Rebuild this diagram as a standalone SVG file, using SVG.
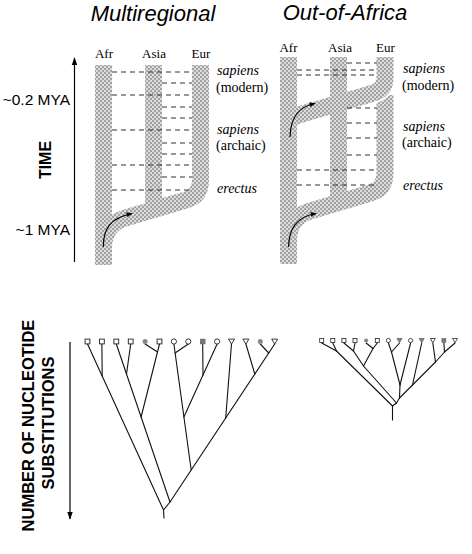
<svg xmlns="http://www.w3.org/2000/svg" xmlns:xlink="http://www.w3.org/1999/xlink" width="472" height="554" viewBox="0 0 472 554">
<defs>
<pattern id="chk" width="4" height="4" patternUnits="userSpaceOnUse">
<rect width="4" height="4" fill="#dcdcdc"/>
<rect width="2" height="2" fill="#a2a2a2"/>
<rect x="2" y="2" width="2" height="2" fill="#a2a2a2"/>
</pattern>
<marker id="ah" viewBox="0 0 10 10" refX="9" refY="5" markerWidth="8" markerHeight="8" orient="auto" markerUnits="userSpaceOnUse"><path d="M0,1.5 L10,5 L0,8.5 z" fill="#000"/></marker>
<marker id="ahs" viewBox="0 0 10 10" refX="9" refY="5" markerWidth="6" markerHeight="6" orient="auto" markerUnits="userSpaceOnUse"><path d="M0,1 L10,5 L0,9 z" fill="#000"/></marker>
<rect id="sq" x="-2.4" y="-2.4" width="4.8" height="4.8" fill="#fff" stroke="#222" stroke-width="0.9"/>
<rect id="gsq" x="-2.4" y="-2.4" width="4.8" height="4.8" fill="#777" stroke="#666" stroke-width="0.6"/>
<circle id="circ" r="2.6" fill="#fff" stroke="#222" stroke-width="0.9"/>
<circle id="dot" r="2.5" fill="#888"/>
<path id="tri" d="M-3,-2.4 L3,-2.4 L0,2.6 z" fill="#fff" stroke="#222" stroke-width="0.9"/>
<path id="gtri" d="M-3,-2.4 L3,-2.4 L0,2.6 z" fill="#888" stroke="#555" stroke-width="0.7"/>
<rect id="sqs" x="-2" y="-2" width="4" height="4" fill="#fff" stroke="#222" stroke-width="0.8"/>
<rect id="gsqs" x="-2" y="-2" width="4" height="4" fill="#777" stroke="#666" stroke-width="0.6"/>
<circle id="circs" r="2.1" fill="#fff" stroke="#222" stroke-width="0.8"/>
<circle id="dots" r="2.1" fill="#888"/>
<path id="tris" d="M-2.5,-2 L2.5,-2 L0,2.2 z" fill="#fff" stroke="#222" stroke-width="0.8"/>
<path id="gtris" d="M-2.5,-2 L2.5,-2 L0,2.2 z" fill="#888" stroke="#555" stroke-width="0.7"/>
</defs>
<style>
.title{font-family:"Liberation Sans",Arial,sans-serif;font-style:italic;font-size:22px;fill:#000}
.col{font-family:"Liberation Serif","Times New Roman",serif;font-size:13px;fill:#000;text-anchor:middle}
.lab{font-family:"Liberation Serif","Times New Roman",serif;font-size:14px;fill:#000}
.it{font-style:italic}
.ax{font-family:"Liberation Sans",Arial,sans-serif;font-size:15.5px;fill:#000}
.axb{font-family:"Liberation Sans",Arial,sans-serif;font-size:16.5px;font-weight:bold;fill:#000;text-anchor:middle}
.band{fill:none;stroke:url(#chk);stroke-width:17}
.gap{fill:none;stroke:#fff;stroke-width:21}
.dash{stroke:#333;stroke-width:1;stroke-dasharray:5,4;fill:none}
.arr{fill:none;stroke:#000;stroke-width:1.2}
.edge{stroke:#111;stroke-width:1.1;fill:none;stroke-linecap:round}
</style>
<rect width="472" height="554" fill="#fff"/>

<g id="title-multiregional"><text class="title" x="153" y="21" text-anchor="middle">Multiregional</text></g>
<g id="title-out-of-africa"><text class="title" x="345" y="20" text-anchor="middle">Out-of-Africa</text></g>

<g id="time-axis">
<line class="arr" x1="74.5" y1="262" x2="74.5" y2="58" marker-end="url(#ah)"/>
<text class="ax" x="70" y="105" text-anchor="end">~0.2 MYA</text>
<text class="ax" x="70" y="235" text-anchor="end">~1 MYA</text>
<text class="axb" transform="translate(50.5,160) rotate(-90)" style="font-size:16px">TIME</text>
</g>

<g id="substitution-axis">
<line class="arr" x1="70" y1="342" x2="70" y2="519" marker-end="url(#ah)"/>
<text class="axb" transform="translate(33.5,425.5) rotate(-90)">NUMBER OF NUCLEOTIDE</text>
<text class="axb" transform="translate(53.5,423) rotate(-90)">SUBSTITUTIONS</text>
</g>

<g id="multiregional">
<text class="col" x="104" y="58">Afr</text>
<text class="col" x="154" y="58">Asia</text>
<text class="col" x="201" y="58">Eur</text>
<path class="band" d="M103.5,65 V265"/>
<path class="band" d="M153.5,65 V210"/>
<path class="band" d="M200.5,65 V180 Q200.5,196 186,200 L125,218 Q103.5,225 103.5,248"/>
<g id="mr-dashes">
<line class="dash" x1="112" y1="72" x2="192" y2="72"/>
<line class="dash" x1="162" y1="83" x2="192" y2="83"/>
<line class="dash" x1="112" y1="95" x2="192" y2="95"/>
<line class="dash" x1="162" y1="107" x2="192" y2="107"/>
<line class="dash" x1="162" y1="118" x2="192" y2="118"/>
<line class="dash" x1="112" y1="130" x2="192" y2="130"/>
<line class="dash" x1="162" y1="143" x2="192" y2="143"/>
<line class="dash" x1="162" y1="154" x2="192" y2="154"/>
<line class="dash" x1="112" y1="165" x2="192" y2="165"/>
<line class="dash" x1="162" y1="177" x2="192" y2="177"/>
<line class="dash" x1="112" y1="190" x2="192" y2="190"/>
</g>
<path class="arr" d="M103.3,247 C103.3,229 110,218 132,213.5" marker-end="url(#ahs)"/>
<text class="lab it" x="217" y="75">sapiens</text>
<text class="lab" x="216" y="92">(modern)</text>
<text class="lab it" x="217" y="134">sapiens</text>
<text class="lab" x="216" y="150">(archaic)</text>
<text class="lab it" x="217" y="193">erectus</text>
</g>

<g id="out-of-africa">
<text class="col" x="288.5" y="52">Afr</text>
<text class="col" x="340" y="52">Asia</text>
<text class="col" x="385.5" y="52">Eur</text>
<path class="band" d="M288.5,57 V264"/>
<path class="band" d="M338.5,57 V205"/>
<path class="band" d="M385,95 V173 Q385,189 370.5,193 L310,211 Q288.5,218 288.5,240"/>
<path class="gap" d="M385,80 V78 Q385,90 372,93.5 L352,99.3"/>
<path class="band" d="M385,57 V78 Q385,90 372,93.5 L300,114.5 L291,118"/>
<g id="ooa-dashes">
<line class="dash" x1="347" y1="63" x2="377" y2="63"/>
<line class="dash" x1="297" y1="70" x2="377" y2="70"/>
<line class="dash" x1="297" y1="75" x2="377" y2="75"/>
<line class="dash" x1="347" y1="108" x2="377" y2="108"/>
<line class="dash" x1="347" y1="123" x2="377" y2="123"/>
<line class="dash" x1="347" y1="138" x2="377" y2="138"/>
<line class="dash" x1="347" y1="155" x2="377" y2="155"/>
<line class="dash" x1="297" y1="170" x2="377" y2="170"/>
<line class="dash" x1="297" y1="185" x2="377" y2="185"/>
</g>
<path class="arr" d="M290,137 C290.5,119 297,107 315,103.5" marker-end="url(#ahs)"/>
<path class="arr" d="M288.5,247 C289,229 296,217 316,213.5" marker-end="url(#ahs)"/>
<text class="lab it" x="403" y="73">sapiens</text>
<text class="lab" x="402" y="90">(modern)</text>
<text class="lab it" x="403" y="131">sapiens</text>
<text class="lab" x="402" y="147">(archaic)</text>
<text class="lab it" x="403" y="190">erectus</text>
</g>

<g id="tree-multiregional">
<g id="tree-multiregional-edges">
<line class="edge" x1="164" y1="518" x2="163.5" y2="510"/>
<line class="edge" x1="87.5" y1="344" x2="163.5" y2="510"/>
<line class="edge" x1="101.9" y1="344" x2="102.2" y2="376"/>
<line class="edge" x1="163.5" y1="510" x2="170" y2="502"/>
<line class="edge" x1="116.3" y1="344" x2="170" y2="502"/>
<line class="edge" x1="130.7" y1="344" x2="126.5" y2="374"/>
<line class="edge" x1="159.5" y1="344" x2="141.1" y2="417"/>
<line class="edge" x1="145.1" y1="344" x2="157.5" y2="352"/>
<line class="edge" x1="274.7" y1="344" x2="170" y2="502"/>
<line class="edge" x1="260.3" y1="344" x2="268.7" y2="353"/>
<line class="edge" x1="245.9" y1="344" x2="254.8" y2="374"/>
<line class="edge" x1="231.5" y1="344" x2="225.7" y2="418"/>
<line class="edge" x1="173.9" y1="344" x2="191.2" y2="470"/>
<line class="edge" x1="188.3" y1="344" x2="175.1" y2="353"/>
<line class="edge" x1="217.1" y1="344" x2="183.9" y2="417"/>
<line class="edge" x1="202.7" y1="344" x2="203" y2="375"/>
</g>
<g id="tree-multiregional-leaves">
<use href="#sq" x="87.5" y="341.5"/>
<use href="#sq" x="101.9" y="341.5"/>
<use href="#sq" x="116.3" y="341.5"/>
<use href="#sq" x="130.7" y="341.5"/>
<use href="#dot" x="145.1" y="341.5"/>
<use href="#sq" x="159.5" y="341.5"/>
<use href="#circ" x="173.9" y="341.5"/>
<use href="#circ" x="188.3" y="341.5"/>
<use href="#gsq" x="202.7" y="341.5"/>
<use href="#circ" x="217.1" y="341.5"/>
<use href="#tri" x="231.5" y="341.5"/>
<use href="#tri" x="245.9" y="341.5"/>
<use href="#dot" x="260.3" y="341.5"/>
<use href="#tri" x="274.7" y="341.5"/>
</g>
</g>

<g id="tree-out-of-africa">
<g id="tree-out-of-africa-edges">
<line class="edge" x1="392.5" y1="406" x2="392.5" y2="420"/>
<line class="edge" x1="321.7" y1="343" x2="336.5" y2="351"/>
<line class="edge" x1="332.8" y1="343" x2="336.5" y2="351"/>
<line class="edge" x1="336.5" y1="351" x2="392.5" y2="406"/>
<line class="edge" x1="343.9" y1="343" x2="353.5" y2="351"/>
<line class="edge" x1="355" y1="343" x2="353.5" y2="351"/>
<line class="edge" x1="353.5" y1="351" x2="363.5" y2="366"/>
<line class="edge" x1="366.1" y1="343" x2="373" y2="348.5"/>
<line class="edge" x1="377.3" y1="343" x2="373" y2="348.5"/>
<line class="edge" x1="373" y1="348.5" x2="363.5" y2="366"/>
<line class="edge" x1="363.5" y1="366" x2="396.5" y2="403"/>
<line class="edge" x1="396.5" y1="403" x2="392.5" y2="406"/>
<line class="edge" x1="388.4" y1="343" x2="391.5" y2="352"/>
<line class="edge" x1="399.5" y1="343" x2="391.5" y2="352"/>
<line class="edge" x1="391.5" y1="352" x2="400" y2="385"/>
<line class="edge" x1="410.6" y1="343" x2="400" y2="385"/>
<line class="edge" x1="400" y1="385" x2="399.5" y2="398"/>
<line class="edge" x1="421.7" y1="343" x2="412.5" y2="385"/>
<line class="edge" x1="432.8" y1="343" x2="435.5" y2="362"/>
<line class="edge" x1="443.9" y1="343" x2="444.5" y2="352"/>
<line class="edge" x1="455" y1="343" x2="444.5" y2="352"/>
<line class="edge" x1="444.5" y1="352" x2="435.5" y2="362"/>
<line class="edge" x1="435.5" y1="362" x2="412.5" y2="385"/>
<line class="edge" x1="412.5" y1="385" x2="399.5" y2="398"/>
<line class="edge" x1="399.5" y1="398" x2="396.5" y2="403"/>
</g>
<g id="tree-out-of-africa-leaves">
<use href="#sqs" x="321.7" y="340.5"/>
<use href="#sqs" x="332.8" y="340.5"/>
<use href="#sqs" x="343.9" y="340.5"/>
<use href="#sqs" x="355" y="340.5"/>
<use href="#dots" x="366.1" y="340.5"/>
<use href="#sqs" x="377.3" y="340.5"/>
<use href="#circs" x="388.4" y="340.5"/>
<use href="#gtris" x="399.5" y="340.5"/>
<use href="#circs" x="410.6" y="340.5"/>
<use href="#gtris" x="421.7" y="340.5"/>
<use href="#tris" x="432.8" y="340.5"/>
<use href="#gsqs" x="443.9" y="340.5"/>
<use href="#tris" x="455" y="340.5"/>
</g>
</g>
</svg>
